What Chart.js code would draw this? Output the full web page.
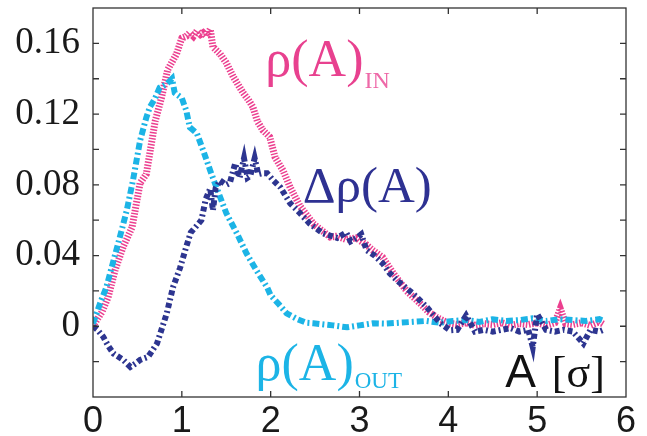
<!DOCTYPE html>
<html>
<head>
<meta charset="utf-8">
<script src="https://cdn.jsdelivr.net/npm/chart.js@4/dist/chart.umd.min.js"></script>
<style>
html,body{margin:0;padding:0;background:#fff;}
#wrap{width:647px;height:436px;position:relative;}
</style>
</head>
<body>
<div id="wrap"><canvas id="c" width="647" height="436"></canvas></div>
<script>
// ---- data ----
const inX = [0,0.04,0.1,0.17,0.25,0.34,0.44,0.53,0.6,0.7,0.77,0.84,0.94,1.0,1.05,1.09,1.13,1.17,1.21,1.24,1.28,1.32,1.35,1.43,1.5,1.58,1.69,1.75,1.8,1.85,1.91,1.99,2.05,2.14,2.22,2.33,2.48,2.58,2.67,2.75,2.85,2.97,3.0,3.08,3.15,3.26,3.38,3.53,3.68,3.78,3.87,3.95,4.02,4.1,4.2,4.3,4.4,4.5,4.6,4.7,4.8,4.9,5.0,5.1,5.2,5.26,5.32,5.4,5.5,5.6,5.7,5.75];
const inY = [0,0.0034,0.008,0.0164,0.032,0.045,0.056,0.081,0.086,0.116,0.129,0.145,0.154,0.163,0.164,0.166,0.164,0.167,0.165,0.166,0.164,0.168,0.158,0.154,0.149,0.141,0.132,0.128,0.124,0.116,0.111,0.107,0.0955,0.088,0.0785,0.068,0.058,0.054,0.0505,0.051,0.049,0.050,0.0486,0.046,0.043,0.039,0.030,0.020,0.013,0.008,0.005,0.003,0.0017,0.001,0.002,0.0005,0.0015,0.001,0.002,0.0005,0.0015,0.001,0.002,0.0005,0.002,0.010,0.0015,0.001,0.002,0.0005,0.0025,0.001];

const outX = [0,0.08,0.15,0.23,0.3,0.38,0.45,0.53,0.6,0.64,0.7,0.75,0.83,0.89,0.92,1.0,1.05,1.09,1.17,1.24,1.32,1.39,1.5,1.62,1.73,1.84,1.96,2.0,2.1,2.18,2.3,2.4,2.48,2.6,2.7,2.86,3.0,3.15,3.3,3.45,3.6,3.75,3.9,4.05,4.2,4.35,4.5,4.65,4.8,4.95,5.1,5.25,5.4,5.55,5.7,5.75];
const outY = [0.0015,0.013,0.022,0.037,0.050,0.0655,0.0825,0.105,0.118,0.124,0.129,0.135,0.137,0.140,0.132,0.129,0.122,0.1125,0.109,0.0995,0.088,0.0785,0.064,0.0525,0.041,0.0316,0.022,0.0175,0.012,0.0073,0.004,0.002,0.0017,0.001,0.0005,-0.0006,0.0005,0.0017,0.0015,0.002,0.0025,0.003,0.002,0.003,0.0035,0.0025,0.004,0.003,0.0035,0.0045,0.003,0.004,0.0035,0.003,0.004,0.003];

const dX = [0,0.05,0.116,0.17,0.23,0.34,0.42,0.48,0.53,0.62,0.72,0.83,0.9,0.98,1.05,1.1,1.17,1.22,1.27,1.32,1.35,1.38,1.43,1.5,1.54,1.6,1.65,1.7,1.74,1.77,1.82,1.86,1.9,1.96,2.03,2.11,2.22,2.33,2.44,2.59,2.75,2.85,2.9,2.97,3.02,3.08,3.17,3.26,3.34,3.42,3.6,3.76,3.91,4.02,4.1,4.2,4.3,4.4,4.5,4.6,4.7,4.8,4.9,4.95,5.0,5.1,5.2,5.3,5.4,5.52,5.6,5.7,5.75];
const dY = [0,-0.002,-0.006,-0.011,-0.0154,-0.019,-0.023,-0.021,-0.019,-0.0173,-0.0098,0.0072,0.022,0.033,0.045,0.053,0.057,0.060,0.072,0.078,0.0655,0.078,0.0825,0.080,0.081,0.092,0.084,0.095,0.084,0.085,0.095,0.086,0.0865,0.0865,0.0825,0.0785,0.0695,0.064,0.058,0.0525,0.050,0.053,0.048,0.050,0.052,0.043,0.040,0.0356,0.030,0.026,0.0186,0.0107,0.0017,-0.0023,-0.002,0.006,-0.003,-0.002,-0.003,-0.002,-0.001,-0.003,-0.002,-0.0117,0.007,-0.002,-0.003,-0.002,-0.003,-0.0097,-0.002,-0.003,-0.002];

const xTicks = [0,1,2,3,4,5,6];
const yLabelValues = [0,0.04,0.08,0.12,0.16];

const pts = (xs, ys) => xs.map((x, i) => ({x: x, y: ys[i]}));

const frameTicks = {
  id: 'frameTicks',
  afterDraw(chart) {
    const {ctx, chartArea: a, scales: {x, y}} = chart;
    ctx.save();
    ctx.strokeStyle = '#333';
    ctx.lineWidth = 1.3;
    ctx.strokeRect(a.left, a.top, a.right - a.left, a.bottom - a.top);
    const L = 6;
    ctx.beginPath();
    for (let v = 1; v < 6; v++) {
      const px = x.getPixelForValue(v);
      ctx.moveTo(px, a.bottom); ctx.lineTo(px, a.bottom - L);
      ctx.moveTo(px, a.top); ctx.lineTo(px, a.top + L);
    }
    for (let k = -1; k <= 8; k++) {
      const py = y.getPixelForValue(k * 0.02);
      ctx.moveTo(a.left, py); ctx.lineTo(a.left + L, py);
      ctx.moveTo(a.right, py); ctx.lineTo(a.right - L, py);
    }
    ctx.stroke();

    // series labels
    const label = (main, sub, vx, vy, color, subColor, size, subSize, subDrop) => {
      const px = x.getPixelForValue(vx), py = y.getPixelForValue(vy);
      ctx.fillStyle = color;
      ctx.font = size + 'px "Liberation Serif"';
      ctx.textBaseline = 'alphabetic';
      ctx.textAlign = 'left';
      ctx.fillText(main, px, py);
      if (sub) {
        const w = ctx.measureText(main).width;
        ctx.fillStyle = subColor;
        ctx.font = subSize + 'px "Liberation Serif"';
        ctx.fillText(sub, px + w + 1, py + subDrop);
      }
    };
    label('ρ(A)', 'IN', 1.94, 0.1418, '#e8418f', '#ee69a8', 52, 24, 12);
    label('Δρ(A)', null, 2.36, 0.0701, '#2e3192', null, 51, 0, 0);
    label('ρ(A)', 'OUT', 1.83, -0.0305, '#1cb4e6', '#1cb4e6', 52, 23, 8);

    // axis title A [σ]
    const ax = x.getPixelForValue(4.64), ay = y.getPixelForValue(-0.0344);
    ctx.fillStyle = '#111';
    ctx.font = '46px "Liberation Sans"';
    ctx.fillText('A', ax, ay);
    const wA = ctx.measureText('A').width;
    ctx.font = '44px "Liberation Serif"';
    ctx.fillText('[σ]', ax + wA + 16, ay);
    ctx.restore();
  }
};

new Chart(document.getElementById('c'), {
  type: 'line',
  data: {
    datasets: [
      { label: 'Δρ(A)', data: pts(dX, dY), borderColor: '#2d3590', borderWidth: 6,
        borderDash: [5, 3, 2, 3], pointRadius: 0, tension: 0, order: 0 },
      { label: 'ρ(A)_OUT', data: pts(outX, outY), borderColor: '#1cb4e6', borderWidth: 6,
        borderDash: [7, 3, 2, 3], pointRadius: 0, tension: 0, order: 1 },
      { label: 'ρ(A)_IN', data: pts(inX, inY), borderColor: '#ec3f8f', borderWidth: 7,
        borderDash: [1.5, 1.5], pointRadius: 0, tension: 0, order: 2 }
    ]
  },
  options: {
    responsive: false,
    animation: false,
    layout: { padding: { top: 8, right: 21, left: 0, bottom: 0 } },
    plugins: { legend: { display: false }, tooltip: { enabled: false } },
    scales: {
      x: {
        type: 'linear', min: 0, max: 6,
        afterFit(s) { s.height = 39; s.paddingLeft = 0; s.paddingRight = 0; },
        afterBuildTicks(s) { s.ticks = xTicks.map(v => ({value: v})); },
        grid: { display: false, drawTicks: false },
        border: { display: false },
        ticks: { padding: 3, color: '#1a1a1a', font: { family: '"Liberation Sans"', size: 36 },
          maxRotation: 0, autoSkip: false, callback: v => String(v) }
      },
      y: {
        type: 'linear', min: -0.04, max: 0.18,
        afterFit(s) { s.width = 93; s.paddingTop = 0; s.paddingBottom = 0; },
        afterBuildTicks(s) { s.ticks = yLabelValues.map(v => ({value: v})); },
        grid: { display: false, drawTicks: false },
        border: { display: false },
        ticks: { padding: 13, color: '#1a1a1a', font: { family: '"Liberation Serif"', size: 37 },
          autoSkip: false, callback: v => (Math.abs(v) < 1e-9 ? '0' : (+v.toFixed(2)).toString()) }
      }
    }
  },
  plugins: [frameTicks]
});
</script>
</body>
</html>
